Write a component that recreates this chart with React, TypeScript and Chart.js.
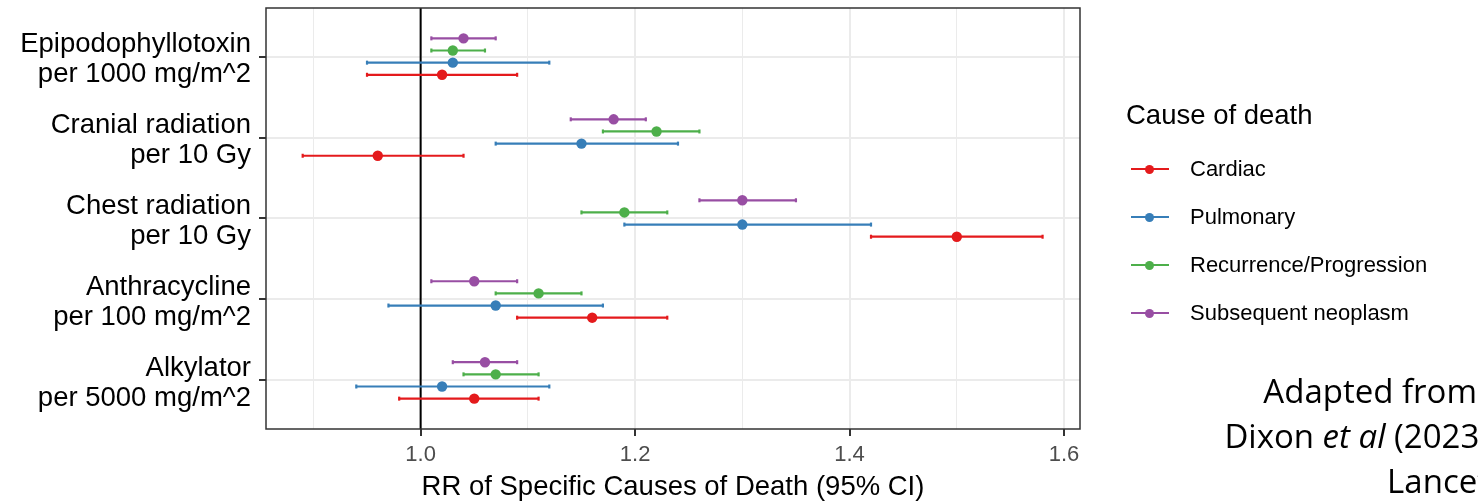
import React, { useEffect, useRef } from "react";
import { Chart, registerables } from "chart.js";

Chart.register(...registerables);

// ---------- data ----------
const categoryLabels: string[][] = [
  ["Epipodophyllotoxin", "per 1000 mg/m^2"],
  ["Cranial radiation", "per 10 Gy"],
  ["Chest radiation", "per 10 Gy"],
  ["Anthracycline", "per 100 mg/m^2"],
  ["Alkylator", "per 5000 mg/m^2"],
];

const seriesNames = ["Cardiac", "Pulmonary", "Recurrence/Progression", "Subsequent neoplasm"];
const seriesColors = ["#E41A1C", "#377EB8", "#4DAF4A", "#984EA3"];

const cardiacRR = [1.02, 0.96, 1.5, 1.16, 1.05];
const cardiacLo = [0.95, 0.89, 1.42, 1.09, 0.98];
const cardiacHi = [1.09, 1.04, 1.58, 1.23, 1.11];

const pulmonaryRR = [1.03, 1.15, 1.3, 1.07, 1.02];
const pulmonaryLo = [0.95, 1.07, 1.19, 0.97, 0.94];
const pulmonaryHi = [1.12, 1.24, 1.42, 1.17, 1.12];

const recurrenceRR = [1.03, 1.22, 1.19, 1.11, 1.07];
const recurrenceLo = [1.01, 1.17, 1.15, 1.07, 1.04];
const recurrenceHi = [1.06, 1.26, 1.23, 1.15, 1.11];

const neoplasmRR = [1.04, 1.18, 1.3, 1.05, 1.06];
const neoplasmLo = [1.01, 1.14, 1.26, 1.01, 1.03];
const neoplasmHi = [1.07, 1.21, 1.35, 1.09, 1.09];

const xTickValues = [0.9, 1.0, 1.1, 1.2, 1.3, 1.4, 1.5, 1.6];
const xTickLabels = ["", "1.0", "", "1.2", "", "1.4", "", "1.6"];
const referenceRR = 1.0;

const xTitle = "RR of Specific Causes of Death (95% CI)";
const legendTitle = "Cause of death";
const noteLines = ["Adapted from", "Dixon et al (2023)", "Lancet"];

// ---------- layout constants ----------
const W = 1478;
const H = 503;
const FONT = "'Liberation Sans', Arial, Helvetica, sans-serif";
const dodge = [-0.225, -0.075, 0.075, 0.225];

const seriesRR = [cardiacRR, pulmonaryRR, recurrenceRR, neoplasmRR];
const seriesLo = [cardiacLo, pulmonaryLo, recurrenceLo, neoplasmLo];
const seriesHi = [cardiacHi, pulmonaryHi, recurrenceHi, neoplasmHi];

const nCat = categoryLabels.length;
const catY = (i: number) => nCat - i;

const panelPlugin = {
  id: "panelDecor",
  beforeDatasetsDraw(chart: any) {
    const { ctx, chartArea, scales } = chart;
    const x = scales.x.getPixelForValue(referenceRR);
    ctx.save();
    ctx.strokeStyle = "#000000";
    ctx.lineWidth = 2;
    ctx.beginPath();
    ctx.moveTo(x, chartArea.top);
    ctx.lineTo(x, chartArea.bottom);
    ctx.stroke();
    ctx.restore();
  },
  afterDraw(chart: any) {
    const { ctx, chartArea } = chart;
    ctx.save();
    ctx.strokeStyle = "#333333";
    ctx.lineWidth = 1.5;
    ctx.strokeRect(
      chartArea.left,
      chartArea.top,
      chartArea.right - chartArea.left,
      chartArea.bottom - chartArea.top
    );
    ctx.restore();
  },
};

export default function App() {
  const canvasRef = useRef<HTMLCanvasElement | null>(null);

  useEffect(() => {
    if (!canvasRef.current) return;
    const datasets: any[] = [];
    seriesNames.forEach((name, s) => {
      categoryLabels.forEach((_, i) => {
        const y = catY(i) + dodge[s];
        datasets.push({
          label: name + " CI " + i,
          data: [
            { x: seriesLo[s][i], y },
            { x: seriesHi[s][i], y },
          ],
          showLine: true,
          borderColor: seriesColors[s],
          borderWidth: 2.2,
          pointStyle: "line",
          rotation: 90,
          pointRadius: 2,
          pointBorderWidth: 2.2,
          pointBorderColor: seriesColors[s],
          pointBackgroundColor: seriesColors[s],
          order: 2,
        });
      });
    });
    seriesNames.forEach((name, s) => {
      datasets.push({
        label: name,
        data: categoryLabels.map((_, i) => ({ x: seriesRR[s][i], y: catY(i) + dodge[s] })),
        showLine: false,
        pointRadius: 5.2,
        pointBorderWidth: 0,
        backgroundColor: seriesColors[s],
        borderColor: seriesColors[s],
        order: 1,
      });
    });

    const chart = new Chart(canvasRef.current, {
      type: "scatter",
      data: { datasets },
      plugins: [panelPlugin],
      options: {
        responsive: false,
        animation: false,
        events: [],
        layout: { padding: { left: 0, top: 8, right: W - 1080, bottom: 0 } },
        plugins: { legend: { display: false }, tooltip: { enabled: false } },
        scales: {
          x: {
            type: "linear",
            min: 0.8558,
            max: 1.6149,
            afterBuildTicks: (scale: any) => {
              scale.ticks = xTickValues.map((v) => ({ value: v }));
            },
            afterFit: (scale: any) => {
              scale.height = 74;
              scale.paddingLeft = 0;
              scale.paddingRight = 0;
            },
            border: { display: false },
            grid: {
              color: "#EBEBEB",
              lineWidth: (ctx: any) => (xTickLabels[ctx.index] ? 2 : 1),
              drawTicks: true,
              tickLength: 7,
              tickWidth: 2,
              tickColor: (ctx: any) => (xTickLabels[ctx.index] ? "#333333" : "rgba(0,0,0,0)"),
            },
            ticks: {
              autoSkip: false,
              maxRotation: 0,
              padding: 6,
              color: "#4D4D4D",
              font: { family: FONT, size: 22 },
              callback: (_v: any, index: number) => xTickLabels[index],
            },
            title: {
              display: true,
              text: xTitle,
              color: "#000000",
              font: { family: FONT, size: 27.5, lineHeight: 1.1 },
              padding: { top: 0, bottom: 0 },
            },
          },
          y: {
            type: "linear",
            min: 0.4,
            max: nCat + 0.6,
            afterBuildTicks: (scale: any) => {
              scale.ticks = categoryLabels.map((_, i) => ({ value: catY(i) }));
            },
            afterFit: (scale: any) => {
              scale.width = 266;
              scale.paddingTop = 0;
              scale.paddingBottom = 0;
            },
            border: { display: false },
            grid: {
              color: "#EBEBEB",
              lineWidth: 2,
              drawTicks: true,
              tickLength: 7,
              tickWidth: 2,
              tickColor: "#333333",
            },
            ticks: {
              autoSkip: false,
              padding: 8,
              labelOffset: 3,
              color: "#000000",
              font: { family: FONT, size: 27.5, lineHeight: 1.09 },
              callback: (v: any) => {
                const idx = nCat - Number(v);
                return categoryLabels[idx] || "";
              },
            },
          },
        },
      } as any,
    });
    return () => chart.destroy();
  }, []);

  const legendItemY = [169, 217, 265, 313];

  return (
    <div
      style={{
        position: "absolute",
        left: 0,
        top: 0,
        width: W,
        height: H,
        overflow: "hidden",
        background: "#ffffff",
        fontFamily: FONT,
      }}
    >
      <canvas ref={canvasRef} width={W} height={H} style={{ position: "absolute", left: 0, top: 0, width: W, height: H }} />
      <div
        style={{
          position: "absolute",
          left: 1126,
          top: 115 - 17,
          fontSize: 27.5,
          lineHeight: "34px",
          color: "#000",
          whiteSpace: "nowrap",
        }}
      >
        {legendTitle}
      </div>
      {seriesNames.map((name, s) => (
        <div key={name}>
          <div
            style={{
              position: "absolute",
              left: 1131,
              top: legendItemY[s] - 1,
              width: 38,
              height: 2,
              background: seriesColors[s],
            }}
          />
          <div
            style={{
              position: "absolute",
              left: 1149 - 4.5,
              top: legendItemY[s] - 4.5,
              width: 9,
              height: 9,
              borderRadius: "50%",
              background: seriesColors[s],
            }}
          />
          <div
            style={{
              position: "absolute",
              left: 1190,
              top: legendItemY[s] - 14,
              fontSize: 22,
              lineHeight: "28px",
              color: "#000",
              whiteSpace: "nowrap",
            }}
          >
            {name}
          </div>
        </div>
      ))}
      <div
        style={{
          position: "absolute",
          left: 1100,
          width: 389,
          top: 368,
          textAlign: "right",
          fontFamily: "'Open Sans', 'Noto Sans', sans-serif",
          fontSize: 33,
          lineHeight: "45px",
          color: "#000",
          whiteSpace: "nowrap",
        }}
      >
        <div style={{ paddingRight: 12 }}>{noteLines[0]}</div>
        <div>
          Dixon <i>et al</i> (2023)
        </div>
        <div>{noteLines[2]}</div>
      </div>
    </div>
  );
}
